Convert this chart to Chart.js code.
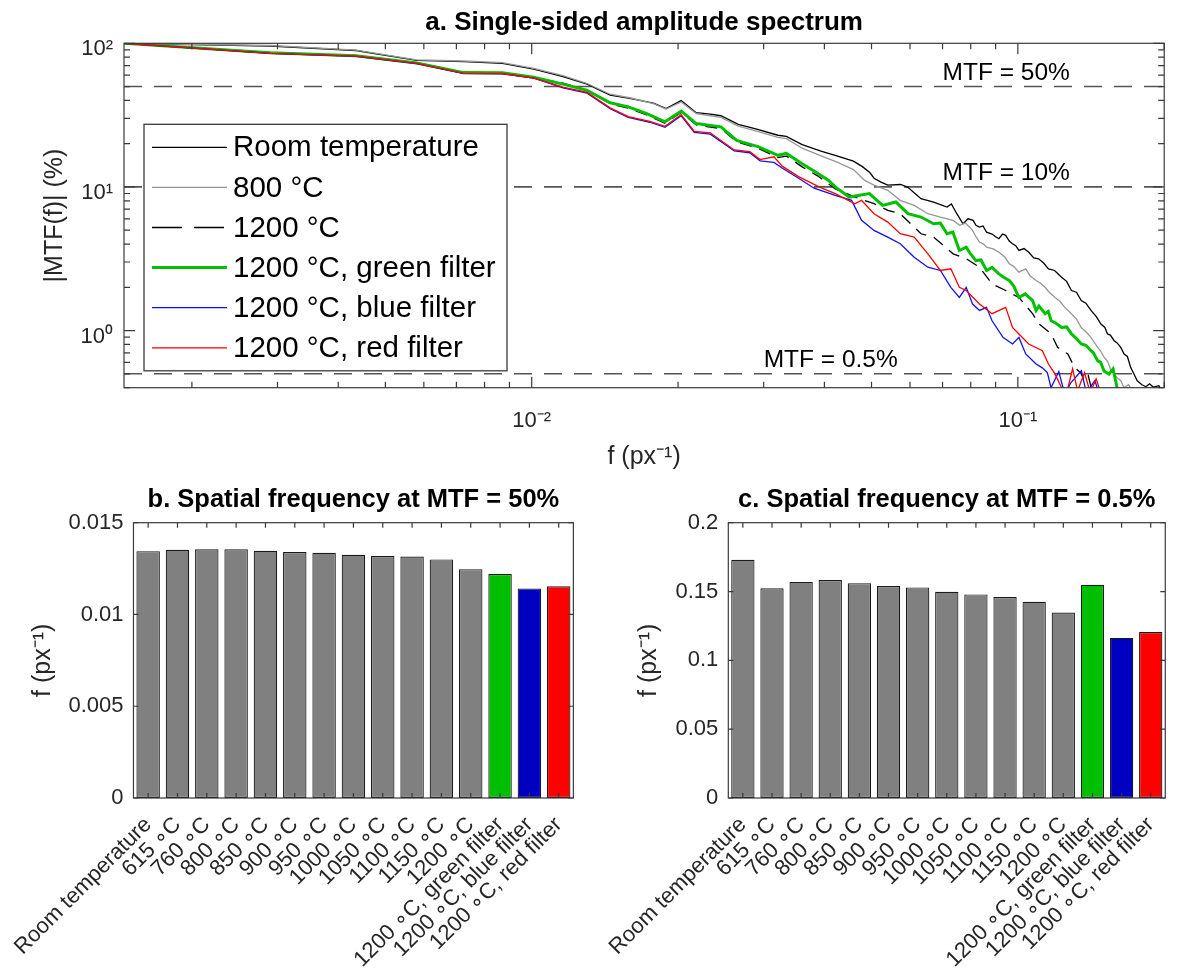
<!DOCTYPE html>
<html>
<head>
<meta charset="utf-8">
<script src="https://cdn.jsdelivr.net/npm/chart.js@4.4.1/dist/chart.umd.min.js"></script>
<style>
  html, body { margin: 0; padding: 0; background: #ffffff; }
  #wrap { position: relative; width: 1184px; height: 975px; overflow: hidden; background: #fff; }
  canvas { position: absolute; }
</style>
</head>
<body>
<div id="wrap">
  <canvas id="chartA" width="1184" height="480" style="left:0px;top:0px"></canvas>
  <canvas id="chartB" width="592" height="505" style="left:0px;top:470px"></canvas>
  <canvas id="chartC" width="592" height="505" style="left:592px;top:470px"></canvas>
</div>
<script>
// ---------------- DATA ----------------
// Panel a: single-sided amplitude spectrum (f in px^-1, |MTF| in %)
const fRoom   = [0.00145,0.0029,0.00435,0.0058,0.00725,0.0087,0.0101,0.0116,0.013,0.0145,0.016,0.0178,0.0189,0.0203,0.0218,0.0233,0.0245,0.0266,0.0289,0.0321,0.0334,0.036,0.0395,0.0426,0.0459,0.0478,0.0496,0.0506,0.0523,0.054,0.0574,0.0594,0.0632,0.0671,0.0715,0.073,0.0749,0.0771,0.079,0.0809,0.082,0.0834,0.0848,0.0862,0.0885,0.09,0.0914,0.093,0.0944,0.096,0.0975,0.099,0.1005,0.103,0.1053,0.1078,0.1103,0.113,0.1156,0.119,0.123,0.126,0.1289,0.132,0.135,0.138,0.1414,0.145,0.1482,0.151,0.1529,0.155,0.1578,0.160,0.1628,0.1654,0.168,0.1706,0.1733,0.176,0.18,0.1834,0.1866,0.19,0.195,0.198];
const mtfRoom = [100,95.8,89.1,76.0,74.6,72.5,66.2,58.6,52.0,43.6,41.2,38.3,35.1,39.9,32.9,32.1,31.3,27.3,25.4,22.9,22.5,19.7,17.7,16.4,15.1,13.9,12.6,11.5,10.8,10.3,10.4,9.94,8.29,7.85,7.24,7.6,6.51,5.54,6.0,5.85,5.4,5.25,5.35,4.84,4.7,4.5,4.36,4.7,4.60,4.2,4.02,3.9,3.61,3.72,3.51,3.2,3.16,2.95,2.69,2.62,2.35,2.2,1.90,1.85,1.62,1.55,1.38,1.25,1.11,1.05,0.947,0.93,0.850,0.82,0.764,0.687,0.66,0.554,0.498,0.447,0.419,0.406,0.426,0.403,0.413,0.38];

const f800    = [0.00145,0.0029,0.00435,0.0058,0.00725,0.0087,0.0101,0.0116,0.013,0.0145,0.016,0.0178,0.0189,0.0203,0.0218,0.0233,0.0245,0.0266,0.0289,0.0321,0.0334,0.036,0.0395,0.0426,0.0459,0.0484,0.0506,0.054,0.0573,0.0612,0.0653,0.0693,0.0736,0.0759,0.078,0.0807,0.082,0.0834,0.085,0.0862,0.089,0.0914,0.094,0.096,0.098,0.1005,0.1038,0.106,0.109,0.111,0.1138,0.116,0.1193,0.122,0.1249,0.1289,0.132,0.135,0.138,0.1414,0.1459,0.148,0.1505,0.153,0.1554,0.160,0.1628,0.1654,0.169,0.172];
const mtf800  = [100,96.5,89.6,76.6,75.3,73.3,67.0,59.5,52.5,44.2,41.6,38.0,34.8,39.0,32.4,31.3,30.5,26.5,24.6,22.1,21.7,18.6,16.4,14.8,13.2,11.1,10.3,9.47,8.06,7.44,6.51,6.17,5.85,5.40,5.6,4.98,4.5,4.13,4.0,3.81,3.7,3.51,3.25,2.92,2.8,2.55,2.69,2.4,2.23,2.15,2.00,1.85,1.70,1.6,1.45,1.31,1.2,1.05,0.98,0.896,0.764,0.72,0.650,0.61,0.53,0.47,0.447,0.40,0.42,0.38];

const f1200   = [0.00145,0.0029,0.00435,0.0058,0.00725,0.0087,0.0101,0.0116,0.013,0.0145,0.0158,0.0172,0.0188,0.0203,0.0218,0.0245,0.0264,0.0293,0.0321,0.0334,0.036,0.0388,0.0421,0.0462,0.0506,0.054,0.0573,0.0632,0.0671,0.0736,0.0783,0.0834,0.0885,0.0944,0.1005,0.1072,0.1106,0.1171,0.1207,0.1267,0.1308,0.1346,0.1371,0.1396,0.1421];
const mtf1200 = [100,85.6,81.8,72.8,62.2,62.0,57.8,52.8,47.2,38.0,35.3,31.8,27.8,33.0,27.0,25.5,20.6,18.5,16.0,16.4,13.8,11.9,9.7,8.50,7.64,6.87,6.51,4.72,4.47,3.42,3.16,2.76,2.11,1.90,1.70,1.31,1.11,0.947,0.764,0.687,0.554,0.509,0.447,0.484,0.38];

const fGreen   = [0.00145,0.0029,0.00435,0.0058,0.00725,0.0087,0.0101,0.0116,0.013,0.0145,0.0158,0.0172,0.0188,0.0203,0.0218,0.0245,0.0264,0.0293,0.0321,0.0334,0.036,0.0388,0.0408,0.0421,0.045,0.0495,0.0527,0.0561,0.0594,0.0632,0.0671,0.0693,0.0715,0.0735,0.0758,0.0783,0.080,0.082,0.084,0.0862,0.0885,0.0914,0.0935,0.096,0.098,0.1005,0.1035,0.1072,0.109,0.1105,0.1138,0.1155,0.1171,0.12,0.123,0.126,0.1289,0.132,0.135,0.138,0.1414,0.143,0.1459,0.148,0.1505,0.154,0.157,0.160,0.163];
const mtfGreen = [100,85.8,82.0,73.0,62.5,62.3,58.0,52.0,47.0,38.5,36.1,32.5,28.4,33.7,27.6,26.2,21.1,19.0,16.6,17.1,14.5,12.4,11.1,10.0,8.50,8.98,7.44,7.85,6.51,6.17,5.54,5.6,4.72,4.85,3.61,3.81,3.4,3.07,3.1,2.62,2.75,2.48,2.35,2.23,2.05,1.70,1.80,1.62,1.38,1.48,1.31,1.36,1.17,1.12,1.05,1.06,0.947,0.88,0.806,0.79,0.724,0.70,0.617,0.60,0.52,0.497,0.54,0.40,0.38];

const fBlue   = [0.00145,0.0029,0.00435,0.0058,0.00725,0.0087,0.0101,0.0116,0.013,0.0145,0.0158,0.0175,0.0188,0.0203,0.0216,0.0233,0.0261,0.0281,0.0295,0.0315,0.0328,0.0354,0.0381,0.0421,0.0455,0.0477,0.0506,0.054,0.0573,0.0612,0.0653,0.0693,0.0728,0.0758,0.0783,0.0807,0.0834,0.0862,0.0885,0.0932,0.0975,0.1005,0.1038,0.109,0.1123,0.115,0.117,0.1214,0.1249,0.1285,0.1351,0.1383,0.144,0.1472];
const mtfBlue = [100,85.0,81.2,72.2,61.5,61.3,57.3,48.9,45.0,35.0,30.5,28.2,26.0,31.3,24.0,23.3,17.8,17.3,15.2,14.8,13.5,11.5,9.8,8.74,8.06,5.85,4.98,4.47,4.02,3.24,2.76,2.62,2.00,1.70,2.00,1.53,1.38,1.45,1.17,0.896,0.806,0.896,0.687,0.585,0.55,0.51,0.40,0.517,0.36,0.433,0.525,0.37,0.447,0.36];

const fRed   = [0.00145,0.0029,0.00435,0.0058,0.00725,0.0087,0.0101,0.0116,0.013,0.0145,0.0158,0.0175,0.0188,0.0203,0.0216,0.0233,0.0261,0.0281,0.0295,0.0315,0.0328,0.0354,0.039,0.0421,0.0462,0.0477,0.0506,0.054,0.0573,0.0612,0.0653,0.0693,0.0728,0.0758,0.0783,0.0834,0.0885,0.0944,0.0975,0.1005,0.1053,0.1123,0.1156,0.1193,0.123,0.1261,0.1296,0.1327,0.1371,0.1409,0.1449,0.1484];
const mtfRed = [100,85.2,81.5,72.5,61.8,61.6,57.3,49.5,45.5,35.5,30.9,28.6,26.4,31.9,24.4,23.8,18.1,17.6,15.5,16.2,13.9,11.8,10.0,8.98,7.64,8.06,6.51,5.69,4.72,4.47,3.42,2.62,2.69,2.00,1.90,1.53,1.31,1.45,1.05,0.947,0.806,0.724,0.585,0.497,0.40,0.37,0.542,0.38,0.509,0.37,0.461,0.36];

const SERIES_LABELS = ['Room temperature', '800 °C', '1200 °C', '1200 °C, green filter', '1200 °C, blue filter', '1200 °C, red filter'];

// Reference MTF levels
const MTF_LEVELS  = [50, 10, 0.5];
const MTF_LABELS  = ['MTF = 50%', 'MTF = 10%', 'MTF = 0.5%'];
const MTF_LABEL_F = [0.07, 0.07, 0.03];

// Axis limits and tick labels of panel a
const X_MIN = 0.00145, X_MAX = 0.2, Y_MIN = 0.4, Y_MAX = 100;
const X_TICK_VALUES = [0.01, 0.1];
const X_TICK_LABELS = ['10⁻²', '10⁻¹'];
const Y_TICK_VALUES = [1, 10, 100];
const Y_TICK_LABELS = ['10⁰', '10¹', '10²'];

// Panels b and c
const BAR_CATEGORIES = ['Room temperature', '615 ∘C', '760 ∘C', '800 ∘C', '850 ∘C', '900 ∘C', '950 ∘C', '1000 ∘C', '1050 ∘C', '1100 ∘C', '1150 ∘C', '1200 ∘C', '1200 ∘C, green filter', '1200 ∘C, blue filter', '1200 ∘C, red filter'];
const F_AT_MTF50  = [0.01345, 0.01352, 0.01355, 0.01355, 0.01347, 0.0134, 0.01336, 0.01325, 0.01318, 0.01316, 0.0130, 0.01247, 0.0122, 0.01142, 0.01154];
const F_AT_MTF05  = [0.173, 0.1523, 0.157, 0.1583, 0.1561, 0.154, 0.153, 0.1498, 0.1479, 0.146, 0.1426, 0.1348, 0.1549, 0.1163, 0.1206];
const B_TICK_VALUES = [0, 0.005, 0.01, 0.015];
const B_TICK_LABELS = ['0', '0.005', '0.01', '0.015'];
const C_TICK_VALUES = [0, 0.05, 0.1, 0.15, 0.2];
const C_TICK_LABELS = ['0', '0.05', '0.1', '0.15', '0.2'];

// ---------------- STYLE ----------------
const FONT = '"Liberation Sans", Arial, Helvetica, sans-serif';
const AXIS_TXT = '#262626';
const BOX_COLOR = '#3a3a3a';
const BAR_GRAY = '#808080', BAR_GREEN = '#00bf00', BAR_BLUE = '#0000c0', BAR_RED = '#ff0000';
const BAR_COLORS = BAR_CATEGORIES.map((c, i) => i < 12 ? BAR_GRAY : [BAR_GREEN, BAR_BLUE, BAR_RED][i - 12]);

Chart.defaults.font.family = FONT;
Chart.defaults.color = AXIS_TXT;

// ---------------- HELPERS ----------------
function pts(fs, vs) { return fs.map((f, i) => ({ x: f, y: vs[i] })); }
function labelFor(values, labels, v) {
  const i = values.findIndex(t => (t === 0 ? Math.abs(v) < 1e-12 : Math.abs(t - v) / Math.abs(t) < 1e-6));
  return i >= 0 ? labels[i] : '';
}
function logTicks(min, max) {
  const out = [];
  for (let e = Math.floor(Math.log10(min)); e <= Math.ceil(Math.log10(max)); e++) {
    for (let j = 1; j <= 9; j++) {
      const v = j * Math.pow(10, e);
      if (v >= min * 0.99999 && v <= max * 1.00001) out.push({ value: v, major: j === 1 });
    }
  }
  return out;
}

// MATLAB-like box with inward ticks on all four sides
const boxPlugin = {
  id: 'matlabBox',
  afterDraw(chart, args, o) {
    const { ctx, chartArea: a, scales } = chart;
    const xs = scales.x, ys = scales.y;
    ctx.save();
    ctx.strokeStyle = o.color; ctx.lineWidth = o.width;
    ctx.beginPath();
    xs.ticks.forEach((t, i) => {
      const p = xs.getPixelForTick(i);
      const L = (t.major === false) ? o.minor : o.major;
      ctx.moveTo(p, a.bottom); ctx.lineTo(p, a.bottom - L);
      ctx.moveTo(p, a.top); ctx.lineTo(p, a.top + L);
    });
    ys.ticks.forEach((t, i) => {
      const p = ys.getPixelForTick(i);
      const L = (t.major === false) ? o.minor : o.major;
      ctx.moveTo(a.left, p); ctx.lineTo(a.left + L, p);
      ctx.moveTo(a.right, p); ctx.lineTo(a.right - L, p);
    });
    ctx.stroke();
    ctx.strokeRect(a.left, a.top, a.width, a.height);
    ctx.restore();
  }
};

// Text labels for the reference MTF levels
const mtfLabelPlugin = {
  id: 'mtfLabels',
  afterDatasetsDraw(chart, args, o) {
    const { ctx, scales: { x, y } } = chart;
    ctx.save();
    ctx.font = o.font; ctx.fillStyle = o.color;
    ctx.textAlign = 'left'; ctx.textBaseline = 'bottom';
    MTF_LEVELS.forEach((lv, i) => {
      ctx.fillText(MTF_LABELS[i], x.getPixelForValue(MTF_LABEL_F[i]), y.getPixelForValue(lv) + o.dy);
    });
    ctx.restore();
  }
};

// Legend drawn inside the plot area (opaque white box)
const insideLegendPlugin = {
  id: 'insideLegend',
  afterDatasetsDraw(chart, args, o) {
    const { ctx, chartArea: a } = chart;
    const items = chart.data.datasets.filter(d => d.inLegend);
    const x0 = a.left + o.offsetX, y0 = a.top + o.offsetY;
    ctx.save();
    ctx.fillStyle = '#ffffff';
    ctx.fillRect(x0, y0, o.width, o.height);
    ctx.strokeStyle = o.borderColor; ctx.lineWidth = o.borderWidth;
    ctx.strokeRect(x0, y0, o.width, o.height);
    ctx.font = o.font; ctx.textAlign = 'left'; ctx.textBaseline = 'middle';
    items.forEach((d, i) => {
      const cy = y0 + o.firstRow + i * o.rowStep;
      ctx.beginPath();
      ctx.strokeStyle = d.borderColor; ctx.lineWidth = d.borderWidth;
      ctx.setLineDash(d.legendDash || []);
      ctx.moveTo(x0 + o.lineStart, cy); ctx.lineTo(x0 + o.lineEnd, cy);
      ctx.stroke();
      ctx.setLineDash([]);
      ctx.fillStyle = o.color;
      ctx.fillText(d.label, x0 + o.textStart, cy + 1);
    });
    ctx.restore();
  }
};

// ---------------- PANEL a ----------------
const refSets = MTF_LEVELS.map(lv => ({
  label: 'ref', data: [{ x: X_MIN, y: lv }, { x: X_MAX, y: lv }],
  borderColor: '#555555', borderWidth: 1.6, borderDash: [18, 12],
  pointRadius: 0, order: 10, inLegend: false
}));
const seriesStyle = [
  { data: pts(fRoom, mtfRoom),   color: '#000000', width: 1.3, dash: [],       legendDash: [],       order: 6 },
  { data: pts(f800, mtf800),     color: '#979797', width: 1.3, dash: [],       legendDash: [],       order: 5 },
  { data: pts(f1200, mtf1200),   color: '#000000', width: 1.3, dash: [12, 8],  legendDash: [30, 12], order: 4 },
  { data: pts(fGreen, mtfGreen), color: '#00c000', width: 3,   dash: [],       legendDash: [],       order: 3 },
  { data: pts(fBlue, mtfBlue),   color: '#1010ee', width: 1.3, dash: [],       legendDash: [],       order: 2 },
  { data: pts(fRed, mtfRed),     color: '#ff0000', width: 1.3, dash: [],       legendDash: [],       order: 1 }
];
const dataSets = seriesStyle.map((s, i) => ({
  label: SERIES_LABELS[i], data: s.data, borderColor: s.color, backgroundColor: s.color,
  borderWidth: s.width, borderDash: s.dash, legendDash: s.legendDash,
  pointRadius: 0, tension: 0, fill: false, order: s.order, inLegend: true
}));

new Chart(document.getElementById('chartA'), {
  type: 'line',
  data: { datasets: [...dataSets, ...refSets] },
  options: {
    responsive: false, animation: false, parsing: true,
    layout: { padding: { left: 0, right: 3, top: 0, bottom: 0 } },
    plugins: {
      legend: { display: false }, tooltip: { enabled: false },
      title: {
        display: true, text: 'a. Single-sided amplitude spectrum', fullSize: false,
        color: '#000000', font: { size: 26, weight: 'bold', family: FONT },
        padding: { top: 6.9, bottom: 5.2 }
      },
      matlabBox: { color: BOX_COLOR, width: 1.2, major: 11, minor: 6 },
      mtfLabels: { font: '24.5px ' + FONT, color: '#000000', dy: -1 },
      insideLegend: {
        offsetX: 20, offsetY: 81, width: 363, height: 246.5,
        borderColor: '#3a3a3a', borderWidth: 1.3,
        firstRow: 23, rowStep: 40.1, lineStart: 8, lineEnd: 83, textStart: 89,
        font: '29.5px ' + FONT, color: '#000000'
      }
    },
    scales: {
      x: {
        type: 'logarithmic', min: X_MIN, max: X_MAX,
        afterBuildTicks: s => { s.ticks = logTicks(X_MIN, X_MAX); },
        afterFit: s => { s.height = 92.3; },
        grid: { display: false, drawTicks: false }, border: { display: false },
        ticks: {
          autoSkip: false, maxRotation: 0, minRotation: 0, padding: 19.8,
          font: { size: 22 }, color: AXIS_TXT,
          callback: v => labelFor(X_TICK_VALUES, X_TICK_LABELS, v)
        },
        title: { display: true, text: 'f (px⁻¹)', color: AXIS_TXT, font: { size: 25 }, padding: { top: 0, bottom: 8 } }
      },
      y: {
        type: 'logarithmic', min: Y_MIN, max: Y_MAX,
        afterBuildTicks: s => { s.ticks = logTicks(Y_MIN, Y_MAX); },
        afterFit: s => { s.width = 124; },
        grid: { display: false, drawTicks: false }, border: { display: false },
        ticks: {
          autoSkip: false, padding: 11, labelOffset: 6,
          font: { size: 22 }, color: AXIS_TXT,
          callback: v => labelFor(Y_TICK_VALUES, Y_TICK_LABELS, v)
        },
        title: { display: true, text: '|MTF(f)| (%)', color: AXIS_TXT, font: { size: 25 }, padding: { top: 40, bottom: 0 } }
      }
    }
  },
  plugins: [mtfLabelPlugin, insideLegendPlugin, boxPlugin]
});

// ---------------- PANELS b and c ----------------
function barChart(canvasId, title, values, yMax, tickValues, tickLabels, yWidth, yTitlePad, rightPad) {
  return new Chart(document.getElementById(canvasId), {
    type: 'bar',
    data: {
      labels: BAR_CATEGORIES,
      datasets: [{
        data: values, backgroundColor: BAR_COLORS, borderColor: '#1a1a1a', borderWidth: 1.2,
        borderSkipped: false, barPercentage: 0.8, categoryPercentage: 1.0
      }]
    },
    options: {
      responsive: false, animation: false,
      layout: { padding: { left: 0, right: rightPad, top: 0, bottom: 0 } },
      plugins: {
        legend: { display: false }, tooltip: { enabled: false },
        title: {
          display: true, text: title, fullSize: false, color: '#000000',
          font: { size: 25.5, weight: 'bold', family: FONT }, padding: { top: 14.2, bottom: 7.9 }
        },
        matlabBox: { color: BOX_COLOR, width: 1.2, major: 5, minor: 5 }
      },
      scales: {
        x: {
          afterFit: s => { s.height = 177; },
          grid: { display: false, drawTicks: false }, border: { display: false },
          ticks: { autoSkip: false, maxRotation: 45, minRotation: 45, padding: 14, font: { size: 22 }, color: AXIS_TXT }
        },
        y: {
          min: 0, max: yMax,
          afterBuildTicks: s => { s.ticks = tickValues.map(v => ({ value: v })); },
          afterFit: s => { s.width = yWidth; },
          grid: { display: false, drawTicks: false }, border: { display: false },
          ticks: { padding: 10, font: { size: 22 }, color: AXIS_TXT, callback: v => labelFor(tickValues, tickLabels, v) },
          title: { display: true, text: 'f (px⁻¹)', color: AXIS_TXT, font: { size: 25 }, padding: { top: yTitlePad, bottom: 0 } }
        }
      }
    },
    plugins: [boxPlugin]
  });
}

barChart('chartB', 'b. Spatial frequency at MTF = 50%', F_AT_MTF50, 0.015, B_TICK_VALUES, B_TICK_LABELS, 128.3, 23, 11);
barChart('chartC', 'c. Spatial frequency at MTF = 0.5%', F_AT_MTF05, 0.2, C_TICK_VALUES, C_TICK_LABELS, 136.3, 42, 3);
</script>
</body>
</html>
